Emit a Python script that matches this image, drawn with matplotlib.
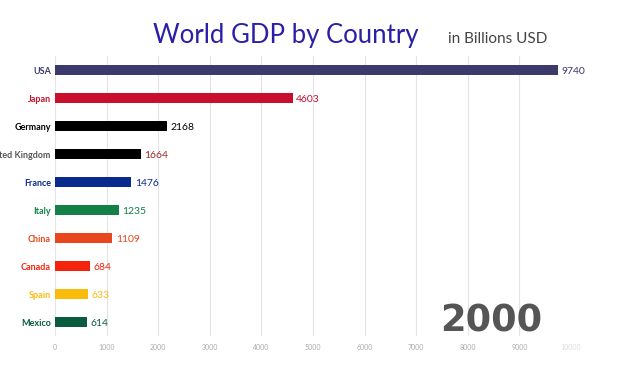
import numpy as np
import matplotlib
matplotlib.use('Agg')
from matplotlib import pyplot as plt

countries = ['USA', 'Japan', 'Germany', 'United Kingdom', 'France',
             'Italy', 'China', 'Canada', 'Spain', 'Mexico']
gdp = [9740, 4603, 2168, 1664, 1476, 1235, 1109, 684, 633, 614]
bar_colors = ['#3c3a6c', '#c8102e', '#000000', '#000000', '#0a2a8e',
              '#138048', '#e8461c', '#f5230c', '#fbbb0a', '#0b5b3e']
name_colors = ['#3c3a6c', '#c8102e', '#000000', '#555555', '#0a2a8e',
               '#138048', '#e8461c', '#f5230c', '#fbbb0a', '#0b5b3e']
value_colors = ['#3c3a6c', '#c8102e', '#000000', '#9c2a2a', '#0a2a8e',
                '#138048', '#e8461c', '#f5230c', '#fbbb0a', '#0b5b3e']
xticks = [0, 1000, 2000, 3000, 4000, 5000, 6000, 7000, 8000, 9000, 10000]
year = '2000'

plt.rcParams['font.family'] = ['Lato', 'DejaVu Sans']

fig = plt.figure(figsize=(6.4, 3.72), dpi=100)
ax = fig.add_axes([55 / 640, 1 - 336 / 372, 516 / 640, 280 / 372])

y = np.arange(len(countries))
ax.barh(y, gdp, height=0.36, color=bar_colors, zorder=3)
ax.set_ylim(len(countries) - 0.5, -0.5)
ax.set_xlim(0, 10000)

for i, v in enumerate(gdp):
    ax.text(v + 70, i + 0.05, str(v), va='center', ha='left', fontsize=7.5,
            color=value_colors[i], zorder=4)

ax.set_yticks(y)
ax.set_yticklabels(countries, fontsize=6.5, fontweight='bold')
for lbl, c in zip(ax.get_yticklabels(), name_colors):
    lbl.set_color(c)
ax.tick_params(axis='y', length=0, pad=3)

ax.set_xticks(xticks)
ax.set_xticklabels([str(t) for t in xticks], fontsize=5, color='#aaaaaa')
ax.get_xticklabels()[-1].set_color('#dddddd')
ax.tick_params(axis='x', length=0, pad=6)
ax.grid(axis='x', color='#e4e4e4', linewidth=0.8, zorder=0)
for s in ax.spines.values():
    s.set_visible(False)

fig.text(286 / 640, 1 - 36 / 372, 'World GDP by Country', ha='center',
         va='center', fontsize=18.5, color='#2a1fa6')
fig.text(448 / 640, 1 - 39 / 372, 'in Billions USD', ha='left',
         va='center', fontsize=11, color='#444444')
fig.text(491 / 640, 1 - 321 / 372, year, ha='center', va='center',
         fontsize=26.5, fontweight='bold', color='#555555',
         family=['DejaVu Sans'])

fig.savefig('out.png', dpi=100, facecolor='white')
